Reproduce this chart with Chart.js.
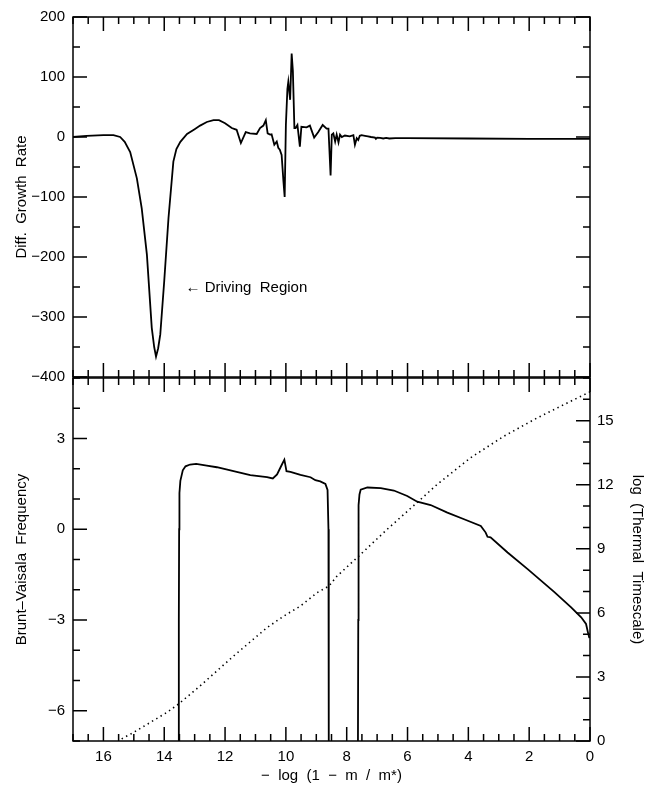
<!DOCTYPE html>
<html>
<head>
<meta charset="utf-8">
<script src="https://cdn.jsdelivr.net/npm/chart.js@4"></script>
<style>
  html, body { margin:0; padding:0; background:#fff; }
  .wrap { position:relative; width:654px; height:789px; }
  canvas { position:absolute; left:0; }
  #c-top { top:0; }
  #c-bot { top:360px; }
</style>
</head>
<body>
<div class="wrap">
  <canvas id="c-top" width="654" height="400"></canvas>
  <canvas id="c-bot" width="654" height="429"></canvas>
</div>
<script>
// Panel superior: tasa de crecimiento diferencial
const growthX = [17.0,16.55,16.0,15.67,15.45,15.3,15.12,14.9,14.74,14.57,14.41,14.33,14.27,14.2,14.13,14.0,13.86,13.7,13.6,13.47,13.25,13.0,12.82,12.6,12.38,12.2,12.0,11.78,11.62,11.48,11.32,11.18,10.96,10.85,10.74,10.66,10.6,10.52,10.47,10.38,10.3,10.25,10.2,10.14,10.08,10.04,10.0,9.95,9.92,9.86,9.81,9.77,9.72,9.68,9.62,9.54,9.49,9.32,9.21,9.07,8.94,8.79,8.66,8.6,8.53,8.49,8.44,8.38,8.33,8.27,8.22,8.16,8.06,7.9,7.78,7.73,7.67,7.62,7.57,7.51,7.4,7.3,7.2,7.07,7.04,7.0,6.9,6.8,6.7,6.6,6.4,6.0,4.0,2.0,0.0];
const growthY = [0,2,3,3,0,-8,-25,-69,-119,-196,-318,-350,-366,-352,-329,-240,-135,-41,-20,-8,5,13,19,25,28,28,23,15,12,-10,8,6,5,15,19,28,6,4,4.5,-13,-7.5,-18,-21,-30,-74,-100,20,80,92,62,139,110,15,15,20,-16,17,16,19,-1,8,20,14,14,-64,4,6,-7.5,4,-9,4,0,2.5,1,3,-13,-2,-5,2,3,2,1,0,-1,-3,-1,-1.5,-2.5,-1.5,-2.5,-2,-2,-2.5,-3,-3];

// Panel inferior: frecuencia de Brunt-Vaisala (dos tramos)
const bvX1 = [13.53,13.52,13.51,13.5,13.47,13.39,13.3,13.15,12.95,12.6,12.27,11.72,11.17,10.62,10.43,10.29,10.13,10.05,9.98,9.85,9.52,9.19,9.03,8.87,8.7,8.63,8.6,8.59];
const bvY1 = [-7,-3,0,1.2,1.6,1.95,2.08,2.14,2.16,2.1,2.05,1.92,1.79,1.72,1.68,1.81,2.14,2.3,1.92,1.9,1.8,1.72,1.62,1.58,1.5,1.3,0,-7];
const bvX2 = [7.63,7.62,7.61,7.58,7.54,7.32,6.88,6.45,6.01,5.68,5.24,4.69,4.14,3.59,3.43,3.37,3.27,2.71,2.05,1.17,0.62,0.29,0.13,0.07,0.02];
const bvY2 = [-7,-3,0.8,1.15,1.31,1.38,1.36,1.28,1.1,0.91,0.8,0.55,0.33,0.11,-0.11,-0.25,-0.27,-0.77,-1.32,-2.08,-2.58,-2.91,-3.13,-3.4,-3.6];

// Escala de tiempo térmica (eje derecho, punteada)
const thermX = [15.4,15.01,14.46,13.91,13.53,12.82,11.72,10.62,10.07,9.52,8.97,8.59,8.32,7.61,6.68,5.58,5.04,3.94,2.85,1.75,0.65,0.0];
const thermY = [0.1,0.4,0.87,1.34,1.73,2.58,3.98,5.31,5.85,6.32,6.95,7.25,7.72,8.65,9.9,11.3,12.0,13.25,14.26,15.12,15.9,16.35];

const xLabelStep = 2, xTickStep = 0.5;
const growthLabelStep = 100, growthTickStep = 50;
const bvLabelStep = 3, thermLabelStep = 3;

Chart.defaults.font.family = "'Liberation Sans', Arial, sans-serif";
Chart.defaults.color = '#000';

const pts = (xs, ys) => xs.map((x, i) => ({ x, y: ys[i] }));
const isMult = (v, m) => Math.abs(v / m - Math.round(v / m)) < 1e-6;
const fmt = v => (v < 0 ? '\u2212' + Math.abs(v) : String(v));
const tickFont = { size: 15 };
const LW = 1.8;

// marco + marcas hacia adentro
const frameTicks = {
  id: 'frameTicks',
  afterDatasetsDraw(chart, args, o) {
    const { ctx, chartArea: a } = chart;
    ctx.save();
    ctx.strokeStyle = '#000';
    ctx.lineWidth = 1.5;
    ctx.strokeRect(a.left, a.top, a.right - a.left, a.bottom - a.top);
    ctx.beginPath();
    for (const s of o.sides) {
      const sc = chart.scales[s.scale];
      for (let v = sc.min; v <= sc.max + 1e-9; v += s.step) {
        const len = isMult(v, s.major) ? 14 : 7;
        const p = sc.getPixelForValue(v);
        for (const e of s.edges) {
          if (e === 'top') { ctx.moveTo(p, a.top); ctx.lineTo(p, a.top + len); }
          if (e === 'bottom') { ctx.moveTo(p, a.bottom); ctx.lineTo(p, a.bottom - len); }
          if (e === 'left') { ctx.moveTo(a.left, p); ctx.lineTo(a.left + len, p); }
          if (e === 'right') { ctx.moveTo(a.right, p); ctx.lineTo(a.right - len, p); }
        }
      }
    }
    ctx.stroke();
    ctx.restore();
  }
};

const note = {
  id: 'note',
  afterDatasetsDraw(chart, args, o) {
    if (!o.text) return;
    const { ctx } = chart;
    ctx.save();
    ctx.font = '15px ' + Chart.defaults.font.family;
    ctx.fillStyle = '#000';
    ctx.textBaseline = 'middle';
    ctx.fillText(o.text, chart.scales.x.getPixelForValue(o.x), chart.scales.y.getPixelForValue(o.y));
    ctx.restore();
  }
};

const noGrid = { display: false, drawTicks: false };

new Chart(document.getElementById('c-top'), {
  type: 'scatter',
  data: {
    datasets: [{ data: pts(growthX, growthY), showLine: true, borderColor: '#000', borderWidth: LW, pointRadius: 0, tension: 0 }]
  },
  options: {
    responsive: false, animation: false,
    layout: { padding: { top: 15, right: 64, bottom: 23, left: 0 } },
    plugins: {
      legend: { display: false }, tooltip: { enabled: false },
      frameTicks: { sides: [
        { scale: 'x', step: xTickStep, major: xLabelStep, edges: ['top', 'bottom'] },
        { scale: 'y', step: growthTickStep, major: growthLabelStep, edges: ['left', 'right'] }
      ] },
      note: { text: '\u2190 Driving  Region', x: 13.3, y: -252 }
    },
    scales: {
      x: { type: 'linear', min: 0, max: 17, reverse: true, display: false },
      y: {
        min: -400, max: 200,
        grid: noGrid, border: { display: false },
        ticks: { stepSize: growthTickStep, autoSkip: false, padding: 8, font: tickFont,
                 callback: v => isMult(v, growthLabelStep) ? fmt(v) : '' },
        title: { display: true, text: 'Diff.  Growth  Rate', font: { size: 15 }, padding: { top: 13 } },
        afterFit: s => { s.width = 73; }
      }
    }
  },
  plugins: [frameTicks, note]
});

new Chart(document.getElementById('c-bot'), {
  type: 'scatter',
  data: {
    datasets: [
      { data: pts(bvX1, bvY1), yAxisID: 'y', showLine: true, borderColor: '#000', borderWidth: LW, pointRadius: 0, tension: 0 },
      { data: pts(bvX2, bvY2), yAxisID: 'y', showLine: true, borderColor: '#000', borderWidth: LW, pointRadius: 0, tension: 0 },
      { data: pts(thermX, thermY), yAxisID: 'y2', showLine: true, borderColor: '#000', borderWidth: 1.6, borderDash: [1.4, 3.6], pointRadius: 0, tension: 0 }
    ]
  },
  options: {
    responsive: false, animation: false,
    layout: { padding: { top: 18, right: 0, bottom: 0, left: 0 } },
    plugins: {
      legend: { display: false }, tooltip: { enabled: false },
      frameTicks: { sides: [
        { scale: 'x', step: xTickStep, major: xLabelStep, edges: ['top', 'bottom'] },
        { scale: 'y', step: 1, major: bvLabelStep, edges: ['left'] },
        { scale: 'y2', step: 1, major: thermLabelStep, edges: ['right'] }
      ] }
    },
    scales: {
      x: {
        type: 'linear', min: 0, max: 17, reverse: true,
        grid: noGrid, border: { display: false },
        ticks: { stepSize: xTickStep, autoSkip: false, maxRotation: 0, minRotation: 0, padding: 7, font: tickFont,
                 callback: v => isMult(v, xLabelStep) ? fmt(v) : '' },
        title: { display: true, text: '\u2212  log  (1  \u2212  m  /  m*)', font: { size: 15 }, padding: { bottom: 4 } },
        afterFit: s => { s.height = 48; }
      },
      y: {
        position: 'left', min: -7, max: 5,
        grid: noGrid, border: { display: false },
        ticks: { stepSize: 1, autoSkip: false, padding: 8, font: tickFont,
                 callback: v => isMult(v, bvLabelStep) ? fmt(v) : '' },
        title: { display: true, text: 'Brunt\u2013Vaisala  Frequency', font: { size: 15 }, padding: { top: 13 } },
        afterFit: s => { s.width = 73; }
      },
      y2: {
        position: 'right', min: 0, max: 17,
        grid: noGrid, border: { display: false },
        ticks: { stepSize: 1, autoSkip: false, padding: 7, font: tickFont,
                 callback: v => isMult(v, thermLabelStep) ? fmt(v) : '' },
        title: { display: true, text: 'log  (Thermal  Timescale)', font: { size: 15 }, padding: { top: 8 } },
        afterFit: s => { s.width = 64; }
      }
    }
  },
  plugins: [frameTicks]
});
</script>
</body>
</html>
